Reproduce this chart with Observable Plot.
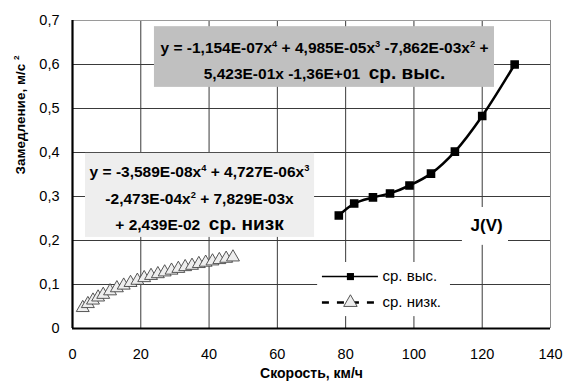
<!DOCTYPE html>
<html>
<head>
<meta charset="utf-8">
<script src="https://cdn.jsdelivr.net/npm/d3@7"></script>
<script src="https://cdn.jsdelivr.net/npm/@observablehq/plot@0.6"></script>
<style>
  html, body { margin: 0; padding: 0; background: white; }
</style>
</head>
<body>
<div id="chart"></div>
<script>
// ---- data ----
const highX = [78, 82.5, 88, 93, 98.7, 105, 112, 120, 129.5];
const highY = [0.257, 0.284, 0.298, 0.307, 0.325, 0.352, 0.402, 0.483, 0.600];

const lowX = [3, 4.5, 6, 7.5, 9, 11, 13, 15, 17, 19, 21, 23, 25, 27, 29, 31, 33, 35, 37, 39, 41, 43, 45, 47];
const lowY = [0.047, 0.056, 0.064, 0.071, 0.077, 0.085, 0.092, 0.098, 0.104, 0.109, 0.115, 0.120,
              0.124, 0.128, 0.132, 0.136, 0.140, 0.143, 0.147, 0.150, 0.153, 0.156, 0.159, 0.162];

const xTicks = [0, 20, 40, 60, 80, 100, 120, 140];
const xTickLabels = ["0", "20", "40", "60", "80", "100", "120", "140"];
const yTicks = [0, 0.1, 0.2, 0.3, 0.4, 0.5, 0.6, 0.7];
const yTickLabels = ["0", "0,1", "0,2", "0,3", "0,4", "0,5", "0,6", "0,7"];

const seriesNames = ["ср. выс.", "ср. низк."];
const eqHigh = "y = -1,154E-07x^4 + 4,985E-05x^3 -7,862E-03x^2 +\n5,423E-01x -1,36E+01  [[ср. выс.]]";
const eqLow = "y = -3,589E-08x^4 + 4,727E-06x^3\n-2,473E-04x^2 + 7,829E-03x\n+ 2,439E-02  [[ср. низк]]";
const xLabel = "Скорость, км/ч";
const yLabel = "Замедление, м/с ^2";
const curveLabel = "J(V)";

const high = highX.map((x, i) => ({x, y: highY[i]}));
const low = lowX.map((x, i) => ({x, y: lowY[i]}));

const font = "'Liberation Sans', Arial, sans-serif";

const chart = Plot.plot({
  width: 565,
  height: 385,
  marginLeft: 72,
  marginRight: 15,
  marginTop: 20,
  marginBottom: 57,
  style: {fontFamily: font, fontSize: "14px", background: "white", color: "black", overflow: "visible"},
  x: {domain: [0, 140]},
  y: {domain: [0, 0.7]},
  marks: [
    // grid
    Plot.ruleX(xTicks.slice(1, -1), {stroke: "#3a3a3a", strokeWidth: 1}),
    Plot.ruleX([xTicks[xTicks.length - 1]], {stroke: "#8a8a8a", strokeWidth: 1}),
    Plot.ruleY(yTicks.slice(1, -1), {stroke: "#3a3a3a", strokeWidth: 1}),
    Plot.ruleY([yTicks[yTicks.length - 1]], {stroke: "#9a9a9a", strokeWidth: 1}),
    // annotation boxes
    Plot.rect([{x1: 24, x2: 123.6, y1: 0.548, y2: 0.686}], {x1: "x1", x2: "x2", y1: "y1", y2: "y2", fill: "#c0c0c0"}),
    Plot.rect([{x1: 3.8, x2: 70.9, y1: 0.207, y2: 0.398}], {x1: "x1", x2: "x2", y1: "y1", y2: "y2", fill: "#eeeeee"}),
    Plot.rect([{x1: 114.2, x2: 127.7, y1: 0.189, y2: 0.275}], {x1: "x1", x2: "x2", y1: "y1", y2: "y2", fill: "white"}),
    Plot.rect([{x1: 71.8, x2: 110.7, y1: 0.027, y2: 0.150}], {x1: "x1", x2: "x2", y1: "y1", y2: "y2", fill: "white"}),
    // annotation texts
    Plot.text([{x: 73.8, y: 0.615, t: eqHigh}], {x: "x", y: "y", text: "t", fontSize: 15.5, fontWeight: "bold", lineHeight: 1.65, lineAnchor: "middle", fill: "black"}),
    Plot.text([{x: 37.2, y: 0.303, t: eqLow}], {x: "x", y: "y", text: "t", fontSize: 15.5, fontWeight: "bold", lineHeight: 1.72, lineAnchor: "middle", fill: "black"}),
    Plot.text([{x: 121.3, y: 0.234, t: curveLabel}], {x: "x", y: "y", text: "t", fontSize: 17, fontWeight: "bold", fill: "black"}),
    // axes lines
    Plot.ruleX([0], {stroke: "black", strokeWidth: 2.2}),
    Plot.ruleY([0], {stroke: "black", strokeWidth: 2.2}),
    // low series
    Plot.line(low, {x: "x", y: "y", stroke: "black", strokeWidth: 2.2, strokeDasharray: "6,3", curve: "catmull-rom"}),
    Plot.dot(low, {x: "x", y: "y", symbol: "triangle", r: 4.8, fill: "#eeeeee", stroke: "#444", strokeWidth: 0.9}),
    // high series
    Plot.line(high, {x: "x", y: "y", stroke: "black", strokeWidth: 2.5, curve: "catmull-rom"}),
    Plot.dot(high, {x: "x", y: "y", symbol: "square", r: 4, fill: "black", stroke: "black"}),
    // legend
    Plot.ruleY([{y: 0.118, x1: 73.2, x2: 89.6}], {y: "y", x1: "x1", x2: "x2", stroke: "black", strokeWidth: 1.5}),
    Plot.dot([{x: 81.4, y: 0.118}], {x: "x", y: "y", symbol: "square", r: 4, fill: "black"}),
    Plot.text([{x: 90.8, y: 0.118, t: seriesNames[0]}], {x: "x", y: "y", text: "t", textAnchor: "start", fontSize: 15, fill: "black"}),
    Plot.ruleY([{y: 0.059, x1: 73.2, x2: 89.6}], {y: "y", x1: "x1", x2: "x2", stroke: "black", strokeWidth: 2.5, strokeDasharray: "7,8"}),
    Plot.dot([{x: 81.4, y: 0.059}], {x: "x", y: "y", symbol: "triangle", r: 5, fill: "#eeeeee", stroke: "#444", strokeWidth: 0.9}),
    Plot.text([{x: 90.8, y: 0.059, t: seriesNames[1]}], {x: "x", y: "y", text: "t", textAnchor: "start", fontSize: 15, fill: "black"}),
    // axes
    Plot.axisX(xTicks, {tickSize: 0, tickPadding: 20, tickFormat: (d) => xTickLabels[xTicks.indexOf(d)], fontSize: 14.5, label: null}),
    Plot.axisY(yTicks, {tickSize: 0, tickPadding: 13, tickFormat: (d) => yTickLabels[yTicks.indexOf(d)], fontSize: 14.5, label: null}),
    Plot.text([xLabel], {frameAnchor: "bottom", dy: 49, fontWeight: "bold", fontSize: 14, fill: "black"}),
    Plot.text([yLabel], {frameAnchor: "left", dx: -52, rotate: -90, fontWeight: "bold", fontSize: 13.5, fill: "black"})
  ]
});

// rich text: ^d -> superscript, [[...]] -> larger text
function rich(el) {
  const kids = Array.from(el.children);
  if (kids.length) { kids.forEach(rich); return; }
  const s = el.textContent;
  if (!/\^|\[\[/.test(s)) return;
  el.textContent = "";
  const re = /\^(\d)|\[\[(.+?)\]\]/g;
  const ns = "http://www.w3.org/2000/svg";
  let last = 0, m;
  while ((m = re.exec(s))) {
    if (m.index > last) el.appendChild(document.createTextNode(s.slice(last, m.index)));
    const t = document.createElementNS(ns, "tspan");
    if (m[1]) {
      t.setAttribute("baseline-shift", "6px");
      t.setAttribute("font-size", "0.6em");
      t.textContent = m[1];
    } else {
      t.setAttribute("font-size", "19px");
      t.textContent = m[2];
    }
    el.appendChild(t);
    last = re.lastIndex;
  }
  if (last < s.length) el.appendChild(document.createTextNode(s.slice(last)));
}
chart.querySelectorAll("text").forEach(rich);

document.getElementById("chart").appendChild(chart);
</script>
</body>
</html>
